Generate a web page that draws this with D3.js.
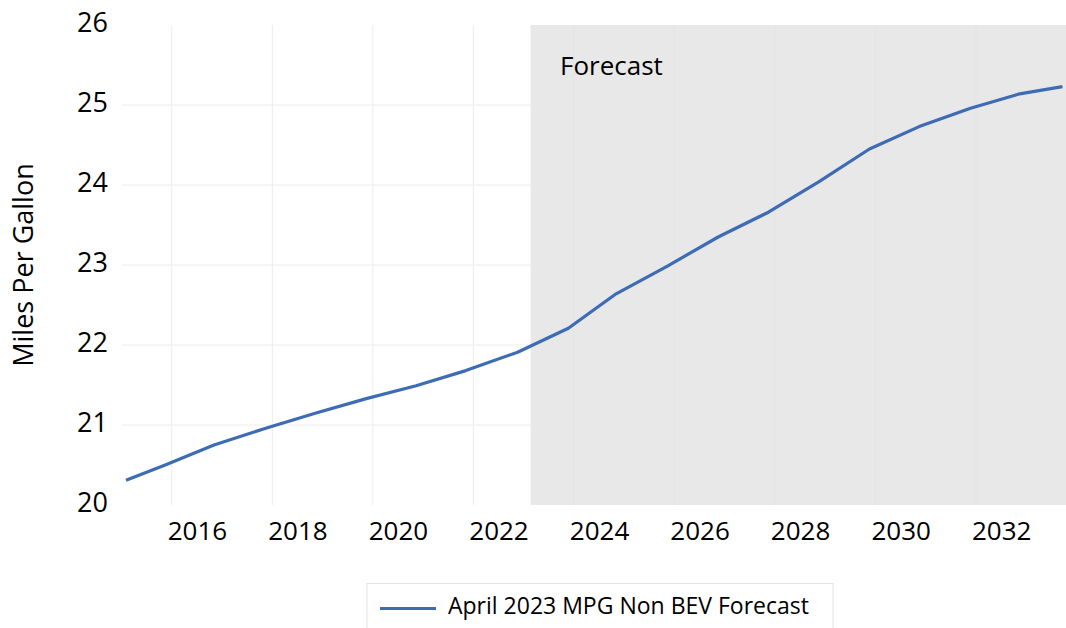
<!DOCTYPE html>
<html>
<head>
<meta charset="utf-8">
<script src="https://cdn.jsdelivr.net/npm/d3@7"></script>
<style>
  body { margin: 0; background: #fff; }
  text { font-family: "Open Sans", sans-serif; fill: #000; }
</style>
</head>
<body>
<script>
// years as decimal dates (points sit near the end of each year)
var years = [2015.09, 2015.87, 2016.84, 2017.87, 2018.87, 2019.87, 2020.86, 2021.85, 2022.88,
             2023.89, 2024.84, 2025.87, 2026.87, 2027.87, 2028.87, 2029.88, 2030.87, 2031.89, 2032.87, 2033.72];
var mpg = [20.31, 20.5, 20.75, 20.96, 21.15, 21.33, 21.49, 21.68, 21.91,
           22.21, 22.64, 22.99, 23.35, 23.66, 24.04, 24.45, 24.73, 24.96, 25.14, 25.23];
var xTicks = [2016, 2018, 2020, 2022, 2024, 2026, 2028, 2030, 2032];
var yTicks = [20, 21, 22, 23, 24, 25, 26];
var forecastStart = 2023.14;
var seriesName = "April 2023 MPG Non BEV Forecast";

const w = 1066, h = 628;
const pLeft = 121.5, pRight = 1066, pTop = 25, pBottom = 505;

const xScale = d3.scaleLinear().domain([2015, 2033.79]).range([pLeft, pRight]);
const yScale = d3.scaleLinear().domain([20, 26]).range([pBottom, pTop]);

const svg = d3.select("body").append("svg")
  .attr("width", w).attr("height", h);

// horizontal grid
svg.append("g").selectAll("line")
  .data(yTicks.filter(d => d > 20 && d < 26))
  .enter().append("line")
  .attr("x1", pLeft).attr("x2", pRight)
  .attr("y1", d => yScale(d)).attr("y2", d => yScale(d))
  .attr("stroke", "#ececec").attr("stroke-width", 1);

// forecast shading
svg.append("rect")
  .attr("x", xScale(forecastStart))
  .attr("y", yScale(26))
  .attr("width", xScale(2033.79) - xScale(forecastStart))
  .attr("height", yScale(20) - yScale(26))
  .attr("fill", "#e8e8e8");

// vertical grid
svg.append("g").selectAll("line")
  .data(xTicks)
  .enter().append("line")
  .attr("x1", d => xScale(d)).attr("x2", d => xScale(d))
  .attr("y1", pTop).attr("y2", pBottom)
  .attr("stroke", d => d > forecastStart ? "#e4e4e4" : "#ececec")
  .attr("stroke-width", 1);

svg.append("text")
  .attr("x", 560).attr("y", 75)
  .style("font-size", "26px")
  .text("Forecast");

// axes (labels only)
const halfYear = xScale(2016.5) - xScale(2016);
const xAxis = d3.axisBottom(xScale).tickValues(xTicks).tickFormat(d3.format("d")).tickSize(0);
const gx = svg.append("g")
  .attr("transform", "translate(0," + pBottom + ")")
  .call(xAxis);
gx.select(".domain").remove();
gx.selectAll("text")
  .attr("x", halfYear).attr("y", 35).attr("dy", 0)
  .style("font-size", "26px").attr("fill", "#000");

const yAxis = d3.axisLeft(yScale).tickValues(yTicks).tickFormat(d3.format("d")).tickSize(0);
const gy = svg.append("g")
  .attr("transform", "translate(" + 108 + ",0)")
  .call(yAxis);
gy.select(".domain").remove();
gy.selectAll("text")
  .attr("x", 0).attr("dy", "0.24em")
  .style("font-size", "27px").attr("fill", "#000");

svg.append("text")
  .attr("transform", "translate(33,265) rotate(-90)")
  .attr("text-anchor", "middle")
  .style("font-size", "27px")
  .text("Miles Per Gallon");

// line
const line = d3.line()
  .x((d, i) => xScale(years[i]))
  .y(d => yScale(d));
svg.append("path")
  .datum(mpg)
  .attr("d", line)
  .attr("fill", "none")
  .attr("stroke", "#3d6bb4")
  .attr("stroke-width", 3.2)
  .attr("stroke-linejoin", "round");

// legend
const lg = svg.append("g");
lg.append("rect")
  .attr("x", 367).attr("y", 583.5)
  .attr("width", 466).attr("height", 60)
  .attr("fill", "#fff").attr("stroke", "#e2e2e2");
lg.append("line")
  .attr("x1", 380).attr("x2", 436)
  .attr("y1", 608.5).attr("y2", 608.5)
  .attr("stroke", "#3d6bb4").attr("stroke-width", 3.2);
lg.append("text")
  .attr("x", 448).attr("y", 614)
  .style("font-size", "23px")
  .text(seriesName);
</script>
</body>
</html>
